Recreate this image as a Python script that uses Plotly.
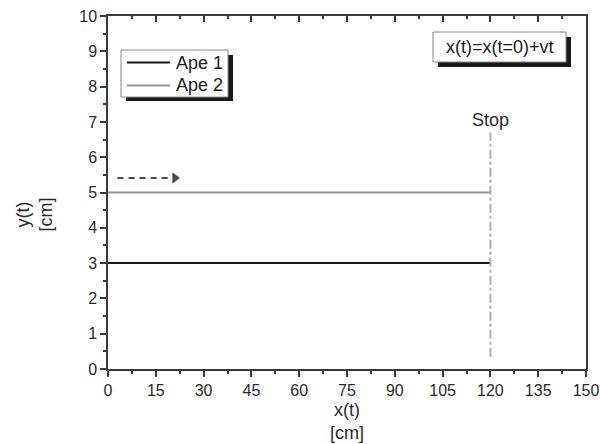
import plotly.graph_objects as go

# Data
ape1_x = [0, 120]
ape1_y = [3, 3]
ape2_x = [0, 120]
ape2_y = [5, 5]
stop_x = [120, 120]
stop_y = [0.35, 6.7]
arrow_x = [3, 19]
arrow_y = [5.41, 5.41]
arrow_head_x = [21]
arrow_head_y = [5.41]
x_ticks = list(range(0, 151, 15))
y_ticks = list(range(0, 11, 1))
series_names = ["Ape 1", "Ape 2"]
series_colors = ["#1a1a1a", "#959595"]

FONT = "Liberation Sans, Arial, sans-serif"
AX = "#3a3a3a"

# plot-area geometry helpers (pixels -> paper)
L, R, T, B = 108, 586, 16, 369
def px(xp):
    return (xp - L) / (R - L)
def py(yp):
    return (B - yp) / (B - T)

fig = go.Figure()
fig.add_trace(go.Scatter(x=ape1_x, y=ape1_y, mode="lines", name=series_names[0],
                         showlegend=False, line=dict(color=series_colors[0], width=2)))
fig.add_trace(go.Scatter(x=ape2_x, y=ape2_y, mode="lines", name=series_names[1],
                         showlegend=False, line=dict(color=series_colors[1], width=2)))
fig.add_trace(go.Scatter(x=stop_x, y=stop_y, mode="lines", showlegend=False,
                         line=dict(color="#b0b0b0", width=2, dash="dashdot")))
fig.add_trace(go.Scatter(x=arrow_x, y=arrow_y, mode="lines", showlegend=False,
                         line=dict(color="#4a4a4a", width=2, dash="6px,5px")))
fig.add_trace(go.Scatter(x=arrow_head_x, y=arrow_head_y, mode="markers", showlegend=False,
                         marker=dict(symbol="triangle-right", size=10, color="#4a4a4a")))
# dummy trace for top axis
fig.add_trace(go.Scatter(x=[0], y=[0], xaxis="x2", mode="markers", showlegend=False,
                         marker=dict(opacity=0), hoverinfo="skip"))

fig.update_layout(
    width=600, height=444,
    margin=dict(l=L, r=600 - R, t=T, b=444 - B),
    paper_bgcolor="white", plot_bgcolor="white",
    font=dict(family=FONT, color="#2a2a2a", size=16),
    xaxis=dict(range=[0, 150], tickvals=x_ticks, ticks="outside", ticklen=6,
               tickwidth=1.5, tickcolor=AX, showline=True, linecolor=AX, linewidth=1.5,
               showgrid=False, zeroline=False, mirror=True, automargin=False,
               minor=dict(ticks="outside", ticklen=3, tickwidth=1.5, tickcolor=AX, dtick=7.5),
               tickfont=dict(size=16),
               title=dict(text="x(t)<br>[cm]", font=dict(size=18), standoff=5)),
    xaxis2=dict(range=[0, 150], overlaying="x", side="top", tickvals=x_ticks,
                ticks="inside", ticklen=6, tickwidth=1.5, tickcolor=AX, automargin=False,
                showticklabels=False, showgrid=False, zeroline=False, showline=False,
                minor=dict(ticks="inside", ticklen=3, tickwidth=1.5, tickcolor=AX, dtick=7.5)),
    yaxis=dict(range=[0, 10], tickvals=y_ticks, ticks="outside", ticklen=6,
               tickwidth=1.5, tickcolor=AX, showline=True, linecolor=AX, linewidth=1.5,
               showgrid=False, zeroline=False, mirror=True, automargin=False,
               minor=dict(ticks="outside", ticklen=3, tickwidth=1.5, tickcolor=AX, dtick=0.5),
               tickfont=dict(size=16)),
    showlegend=False,
)

# y-axis title (placed lower than centre, as in the original)
fig.add_annotation(x=px(33.5), y=py(215), xref="paper", yref="paper",
                   xanchor="center", yanchor="middle", textangle=-90,
                   text="y(t)<br>[cm]", showarrow=False,
                   font=dict(size=18, color="#2a2a2a"))

# legend box with shadow
fig.add_shape(type="rect", xref="paper", yref="paper",
              x0=px(126), x1=px(233), y0=py(101), y1=py(55),
              fillcolor="#1a1a1a", line=dict(width=0), layer="above")
fig.add_shape(type="rect", xref="paper", yref="paper",
              x0=px(121), x1=px(228), y0=py(97), y1=py(50),
              fillcolor="white", line=dict(color="#888", width=1), layer="above")
for i, (name, col) in enumerate(zip(series_names, series_colors)):
    yy = 62.5 + 23 * i
    fig.add_shape(type="line", xref="paper", yref="paper",
                  x0=px(127), x1=px(170), y0=py(yy), y1=py(yy),
                  line=dict(color=col, width=2), layer="above")
    fig.add_annotation(x=px(174), y=py(yy), xref="paper", yref="paper",
                       xanchor="left", yanchor="middle", text=name, showarrow=False,
                       font=dict(size=18, color="#1a1a1a"))

# equation box with shadow
fig.add_shape(type="rect", xref="paper", yref="paper",
              x0=px(438), x1=px(571), y0=py(67), y1=py(37),
              fillcolor="#1a1a1a", line=dict(width=0), layer="above")
fig.add_shape(type="rect", xref="paper", yref="paper",
              x0=px(433), x1=px(566), y0=py(62), y1=py(32),
              fillcolor="white", line=dict(color="#888", width=1), layer="above")
fig.add_annotation(x=px(499.5), y=py(47), xref="paper", yref="paper",
                   xanchor="center", yanchor="middle",
                   text="x(t)=x(t=0)+vt", showarrow=False,
                   font=dict(size=18, color="#1a1a1a"))
fig.add_annotation(x=120, y=7.05, text="Stop", showarrow=False,
                   font=dict(size=18, color="#2a2a2a"))

fig.write_html("out.html")
